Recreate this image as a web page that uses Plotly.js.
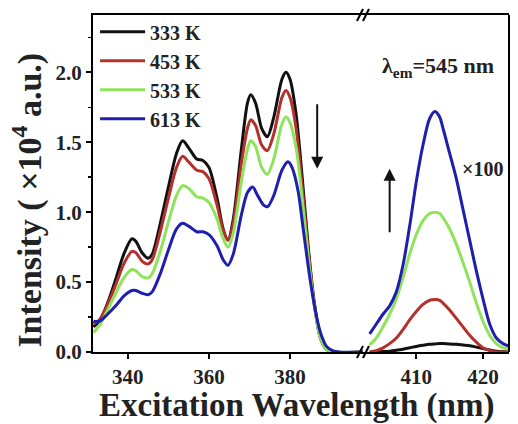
<!DOCTYPE html>
<html>
<head>
<meta charset="utf-8">
<script src="https://cdn.plot.ly/plotly-3.0.1.min.js"></script>
<style>html,body{margin:0;padding:0;background:#fff;}#chart{width:518px;height:424px;}</style>
</head>
<body>
<div id="chart"></div>
<script>
// ---- Data (Intensity ×10^4 a.u.) ----
var seriesNames = ['333 K', '453 K', '533 K', '613 K'];
var seriesColors = ['#111111', '#b3302b', '#8ee35a', '#1f1fae'];

// Left segment (excitation spectra)
var xLeftA = [331.5,333,335,337,339,341,342,343.5,345,346,348,350,352,353.5,355,357,358.5,360,362,363.5,364.7,366,368,369.5,370.3,371.5,373,374.4,376,378,379,380,381.5,383,384.5,386,387.5,389,391,398];
var y333L = [0.18,0.22,0.35,0.52,0.70,0.81,0.79,0.71,0.67,0.70,0.92,1.18,1.42,1.51,1.46,1.38,1.37,1.32,1.10,0.88,0.80,0.95,1.45,1.78,1.84,1.78,1.60,1.54,1.68,1.95,2.00,1.95,1.70,1.25,0.75,0.35,0.10,0.02,0.0,0.0];
var y453L = [0.20,0.23,0.34,0.48,0.63,0.72,0.71,0.65,0.63,0.66,0.86,1.10,1.32,1.40,1.36,1.30,1.29,1.24,1.05,0.87,0.80,0.92,1.35,1.60,1.66,1.62,1.48,1.44,1.56,1.82,1.87,1.82,1.60,1.18,0.72,0.34,0.10,0.02,0.0,0.0];
var y533L = [0.14,0.19,0.30,0.42,0.53,0.59,0.58,0.54,0.53,0.56,0.72,0.93,1.12,1.19,1.17,1.11,1.10,1.07,0.95,0.81,0.75,0.85,1.22,1.45,1.51,1.47,1.32,1.27,1.38,1.63,1.68,1.64,1.46,1.10,0.68,0.33,0.10,0.02,0.0,0.0];
var xLeftB = [331.5,333,335,337,339,341,342,343.5,345,346,348,350,352,353.5,355,357,358.5,360,362,363.5,364.7,366,368,369.5,370.8,372,373.5,374.5,376,378,379.5,380.5,382,383.3,385,386.5,387.5,389,390.5,392,398];
var y613L = [0.22,0.22,0.27,0.33,0.40,0.44,0.44,0.42,0.41,0.43,0.56,0.73,0.88,0.92,0.90,0.86,0.86,0.84,0.76,0.66,0.62,0.70,0.98,1.14,1.18,1.12,1.05,1.04,1.12,1.30,1.36,1.32,1.15,0.87,0.51,0.26,0.14,0.04,0.01,0.0,0.0];

// Right segment (×100)
var xRight = [403,404,405,406,407,408,409,410,411,412,412.8,413.5,414,415,416,417,418,419,420,421,422,423,424];
var y333R = [0.0,0.0,0.003,0.006,0.012,0.02,0.03,0.04,0.048,0.055,0.058,0.06,0.06,0.058,0.055,0.05,0.045,0.035,0.025,0.014,0.006,0.002,0.0];
var y453R = [0.0,0.01,0.03,0.06,0.10,0.16,0.23,0.29,0.34,0.37,0.375,0.37,0.35,0.30,0.24,0.18,0.12,0.07,0.03,0.01,0.0,0.0,0.0];
var y533R = [0.05,0.10,0.18,0.27,0.38,0.53,0.70,0.84,0.94,0.99,1.00,0.99,0.96,0.88,0.77,0.64,0.50,0.35,0.22,0.12,0.06,0.03,0.02];
var y613R = [0.13,0.20,0.27,0.33,0.43,0.62,0.90,1.22,1.48,1.67,1.72,1.68,1.60,1.42,1.24,1.02,0.80,0.58,0.38,0.20,0.10,0.06,0.04];

var xTickVals = [340, 360, 380];
var x2TickVals = [410, 420];

var FONT = 'Liberation Serif, Times New Roman, serif';
var leftX = [xLeftA, xLeftA, xLeftA, xLeftB];
var leftY = [y333L, y453L, y533L, y613L];
var rightY = [y333R, y453R, y533R, y613R];

var traces = [];
for (var i = 0; i < 4; i++) {
  traces.push({x: leftX[i], y: leftY[i], type: 'scatter', mode: 'lines', name: seriesNames[i],
    line: {color: seriesColors[i], width: 3, shape: 'spline', smoothing: 0.8}, xaxis: 'x', yaxis: 'y'});
}
for (var j = 0; j < 4; j++) {
  traces.push({x: xRight, y: rightY[j], type: 'scatter', mode: 'lines', name: seriesNames[j], showlegend: false,
    line: {color: seriesColors[j], width: 3, shape: 'spline', smoothing: 0.8}, xaxis: 'x2', yaxis: 'y'});
}

var brk = 0.649;
var axisCommon = {showline: true, linecolor: '#000', linewidth: 2, ticks: 'outside', ticklen: 5, tickwidth: 2,
  tickcolor: '#000', showgrid: false, zeroline: false, mirror: true,
  tickfont: {family: FONT, size: 21, color: '#222', weight: 'bold'}};

function slash(xoff, yanchor) {
  return {type: 'line', xref: 'paper', yref: 'paper', xsizemode: 'pixel', ysizemode: 'pixel',
    xanchor: brk, yanchor: yanchor, x0: xoff - 3, x1: xoff + 3, y0: -6, y1: 6,
    line: {color: '#000', width: 2}};
}

var layout = {
  width: 518, height: 424,
  margin: {l: 93, r: 9, t: 15, b: 72},
  paper_bgcolor: '#fff', plot_bgcolor: '#fff',
  showlegend: true,
  legend: {x: 0.005, y: 1.008, xanchor: 'left', yanchor: 'top', bgcolor: 'rgba(0,0,0,0)', itemwidth: 45,
    font: {family: FONT, size: 20, color: '#222', weight: 'bold'}, tracegroupgap: 0},
  xaxis: Object.assign({}, axisCommon, {domain: [0, brk], range: [331.4, 398], tickvals: xTickVals, anchor: 'y'}),
  xaxis2: Object.assign({}, axisCommon, {domain: [brk, 1], range: [402, 423.9], tickvals: x2TickVals, anchor: 'y'}),
  yaxis: Object.assign({}, axisCommon, {range: [0, 2.41], dtick: 0.5, tickformat: '.1f', mirror: false,
    minor: {dtick: 0.25, ticks: 'outside', ticklen: 3, tickwidth: 1.5, tickcolor: '#000'}}),
  shapes: [
    {type: 'line', xref: 'paper', yref: 'paper', x0: 1, x1: 1, y0: 0, y1: 1, line: {color: '#000', width: 2}},
    slash(-3, 0), slash(3, 0), slash(-3, 1), slash(3, 1)
  ],
  annotations: [
    {xref: 'paper', yref: 'paper', x: 0.49, y: -0.158, xanchor: 'center', yanchor: 'middle', showarrow: false,
      text: 'Excitation Wavelength (nm)', font: {family: FONT, size: 33, color: '#222', weight: 'bold'}},
    {xref: 'paper', yref: 'paper', x: -0.158, y: 0.45, xanchor: 'center', yanchor: 'middle', showarrow: false,
      textangle: -90, text: 'Intensity ( ×10<sup>4</sup> a.u.)', font: {family: FONT, size: 34, color: '#222', weight: 'bold'}},
    {xref: 'x2', yref: 'y', x: 413.3, y: 2.04, xanchor: 'center', yanchor: 'middle', showarrow: false,
      text: 'λ<sub>em</sub>=545 nm', font: {family: FONT, size: 22, color: '#222', weight: 'bold'}},
    {xref: 'x2', yref: 'y', x: 416.6, y: 1.31, xanchor: 'left', yanchor: 'middle', showarrow: false,
      text: '×100', font: {family: FONT, size: 20, color: '#222', weight: 'bold'}},
    {xref: 'x', yref: 'y', x: 386.7, y: 1.31, ax: 0, ay: -66, axref: 'pixel', ayref: 'pixel', showarrow: true,
      arrowhead: 2, arrowsize: 1.2, arrowwidth: 2, arrowcolor: '#111', text: ''},
    {xref: 'x2', yref: 'y', x: 406.0, y: 1.31, ax: 0, ay: 65, axref: 'pixel', ayref: 'pixel', showarrow: true,
      arrowhead: 2, arrowsize: 1.2, arrowwidth: 2, arrowcolor: '#111', text: ''}
  ]
};

Plotly.newPlot('chart', traces, layout, {staticPlot: true, displayModeBar: false});
</script>
</body>
</html>
